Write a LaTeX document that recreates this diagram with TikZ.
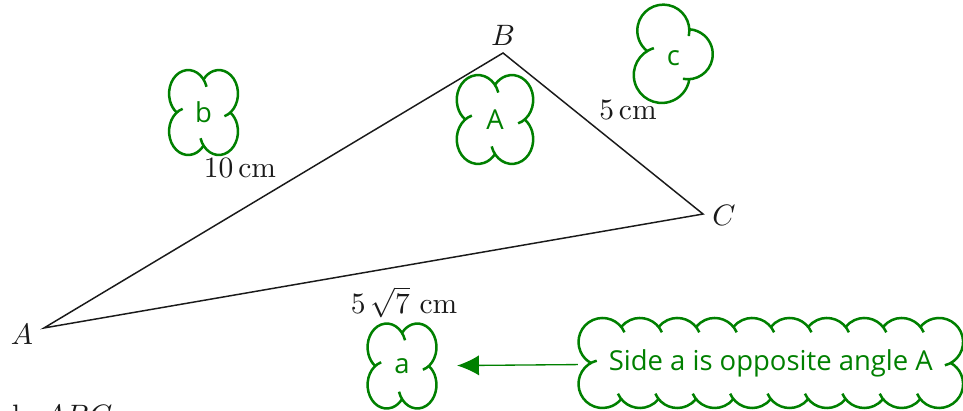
\documentclass[tikz,border=0pt]{standalone}
\usepackage{fontspec}
\usepackage{amsmath}
\usepackage{tikz}
\usetikzlibrary{arrows.meta}
\newfontfamily\wolkenschrift{Open Sans}
\definecolor{gruen}{HTML}{008000}
\definecolor{grau}{HTML}{1A1A1A}
\tikzset{
  seite/.style={grau,line width=0.5pt},
  ecke/.style={grau,inner sep=0pt},
  mass/.style={grau,inner sep=0pt},
  wolke/.style={gruen,line width=0.85pt},
  wtext/.style={text=gruen,font=\wolkenschrift\fontsize{9.3}{11}\selectfont,inner sep=0pt},
  pfeil/.style={-{Latex[length=2.6mm,width=2.4mm]},gruen,line width=0.45pt},
}
\begin{document}
\begin{tikzpicture}
  \useasboundingbox (0,0) rectangle (11.469,4.883);
  % --- Dreieck ---
  \coordinate (A) at (0.524,0.977);
  \coordinate (B) at (5.991,4.252);
  \coordinate (C) at (8.373,2.334);
  \draw[seite] (A)--(B)--(C)--cycle;
  \node[ecke] (lA) at (0.262,0.905) {$A$};
  \node[ecke] (lB) at (5.991,4.466) {$B$};
  \node[ecke] (lC) at (8.623,2.322) {$C$};
  \node[mass] (c10) at (2.858,2.882) {10\,cm};
  \node[mass] (c5) at (7.479,3.573) {5\,cm};
  \node[mass] (c57) at (4.812,1.286) {$5\,\sqrt{7}$ cm};
  \node[grau,anchor=base west,inner sep=0pt] (titel) at (-0.87,-0.19) {Triangle $ABC$};
  % --- Wolken mit vier Puffs ---
  \node[wtext,minimum width=0.82cm,minimum height=1.01cm] (wb) at (2.424,3.543) {b};
  \node[wtext,minimum width=0.91cm,minimum height=1.06cm] (wA) at (5.895,3.460) {A};
  \node[wtext,minimum width=0.82cm,minimum height=1.01cm] (wa) at (4.788,0.524) {a};
  \foreach \n/\sx/\sy in {wb/0.228/0.281,wA/0.253/0.294,wa/0.228/0.281}{
    \begin{scope}[shift={(\n)},xscale=\sx,yscale=\sy]
      \foreach \w in {45,135,225,315}
        \draw[wolke] (\w:1.131) ++(\w-118.1:1) arc[start angle=\w-118.1,end angle=\w+98.1,radius=1];
    \end{scope}
  }
  % --- Wolke c, drei Puffs ---
  \node[wtext,minimum width=0.94cm,minimum height=1.17cm] (wc) at (8.019,4.189) {c};
  \begin{scope}[shift={(wc)}]
    \draw[wolke] (-0.119,0.329) ++(-12:0.310) arc[start angle=-12,end angle=231.6,radius=0.310];
    \draw[wolke] (0.172,0.048) ++(-101.1:0.298) arc[start angle=-101.1,end angle=86.4,radius=0.298];
    \draw[wolke] (-0.138,-0.199) ++(106.3:0.333) arc[start angle=106.3,end angle=351.3,radius=0.333];
  \end{scope}
  % --- grosse Wolke ---
  \node[wtext,minimum width=4.58cm,minimum height=1.072cm] (satz) at (9.180,0.560)
    {Side a is opposite angle A};
  \begin{scope}[shift={(satz)}]
    \foreach \i in {1,...,8}{
      \draw[wolke] (-2.004+0.4454*\i,0.25) ++(23.8:0.286) arc[start angle=23.8,end angle=141.2,radius=0.286];
      \draw[wolke] (-2.004+0.4454*\i,-0.25) ++(203.8:0.286) arc[start angle=203.8,end angle=321.2,radius=0.286];
    }
    \draw[wolke] (-2.004,0.25) ++(23.8:0.286) arc[start angle=23.8,end angle=241,radius=0.286];
    \draw[wolke] (-2.004,-0.25) ++(104:0.286) arc[start angle=104,end angle=321.2,radius=0.286];
    \draw[wolke] (2.004,-0.25) ++(203.8:0.286) arc[start angle=203.8,end angle=421,radius=0.286];
    \draw[wolke] (2.004,0.25) ++(-76:0.286) arc[start angle=-76,end angle=141.2,radius=0.286];
  \end{scope}
  \draw[pfeil,shorten >=6.8pt] (satz)--(wa);
\end{tikzpicture}
\end{document}
